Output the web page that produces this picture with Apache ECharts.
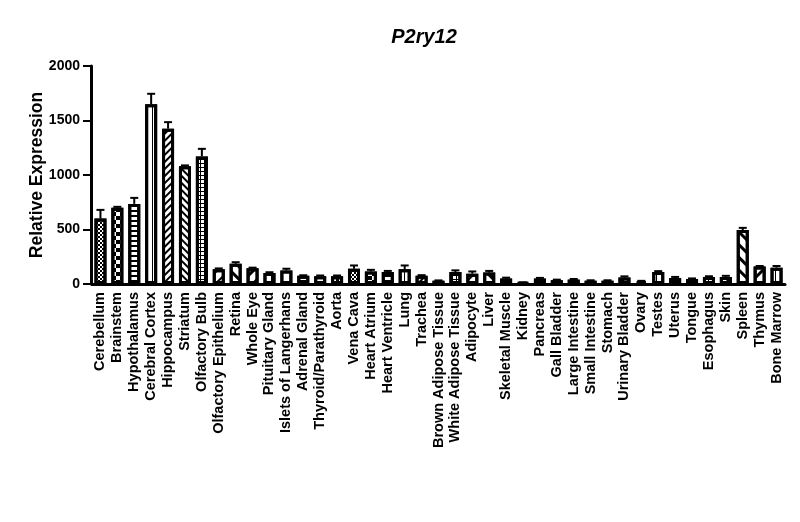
<!DOCTYPE html>
<html>
<head>
<meta charset="utf-8">
<script src="https://cdn.jsdelivr.net/npm/echarts@6/dist/echarts.min.js"></script>
<style>html,body{margin:0;padding:0;background:#fff;}#c{width:800px;height:522px;}</style>
</head>
<body>
<div id="c"></div>
<script>
const categories = ['Cerebellum','Brainstem','Hypothalamus','Cerebral Cortex','Hippocampus','Striatum','Olfactory Bulb','Olfactory Epithelium','Retina','Whole Eye','Pituitary Gland','Islets of Langerhans','Adrenal Gland','Thyroid/Parathyroid','Aorta','Vena Cava','Heart Atrium','Heart Ventricle','Lung','Trachea','Brown Adipose Tissue','White Adipose Tissue','Adipocyte','Liver','Skeletal Muscle','Kidney','Pancreas','Gall Bladder','Large Intestine','Small Intestine','Stomach','Urinary Bladder','Ovary','Testes','Uterus','Tongue','Esophagus','Skin','Spleen','Thymus','Bone Marrow'];
const values = [600,700,735,1650,1425,1080,1170,135,185,145,100,125,75,70,70,140,115,110,135,75,30,110,95,105,50,12,50,35,40,30,30,60,25,110,55,45,65,65,495,160,150];
const errors = [80,8,55,95,60,8,70,8,15,5,8,15,5,8,8,30,15,10,35,6,3,15,20,15,8,3,6,5,6,4,4,10,4,8,10,6,6,10,20,5,15];
const yTicks = [0,500,1000,1500,2000];

const patterns = [
  {symbol:'rect',symbolSize:1,dashArrayX:[[2,2],[0,2,2,0]],dashArrayY:[2,0],rotation:0},
  {symbol:'rect',symbolSize:1,dashArrayX:[[4,4],[0,4,4,0]],dashArrayY:[4,0],rotation:0},
  {symbol:'rect',symbolSize:1,dashArrayX:[1,0],dashArrayY:[2,3],rotation:0},
  {symbol:'rect',symbolSize:1,dashArrayX:[1,0],dashArrayY:[2,5],rotation:Math.PI/2},
  {symbol:'rect',symbolSize:1,dashArrayX:[1,0],dashArrayY:[1.2,2.8],rotation:-Math.PI/4},
  {symbol:'rect',symbolSize:1,dashArrayX:[1,0],dashArrayY:[1.2,2.8],rotation:Math.PI/4},
  {symbol:'rect',symbolSize:1,dashArrayX:[[4,0],[1,3],[1,3],[1,3]],dashArrayY:[1,0],rotation:0},
  {symbol:'rect',symbolSize:1,dashArrayX:[1,0],dashArrayY:[2,6],rotation:-Math.PI/4},
  {symbol:'rect',symbolSize:1,dashArrayX:[1,0],dashArrayY:[2.5,6],rotation:Math.PI/4},
  {symbol:'rect',symbolSize:1,dashArrayX:[1,0],dashArrayY:[2.5,6],rotation:-Math.PI/4},
  {symbol:'rect',symbolSize:1,dashArrayX:[1,0],dashArrayY:[2,5],rotation:Math.PI/2},
  {symbol:'none',symbolSize:0,dashArrayX:[1,0],dashArrayY:[1,0],rotation:0},
  {symbol:'rect',symbolSize:1,dashArrayX:[1,0],dashArrayY:[2,5],rotation:0},
  {symbol:'circle',symbolSize:0.8,dashArrayX:[3,3],dashArrayY:[3,3],rotation:0},
  {symbol:'rect',symbolSize:1,dashArrayX:[[3,3],[0,3,3,0]],dashArrayY:[3,0],rotation:0}
];

const barData = values.map((v,i)=>({
  value: v,
  itemStyle: {decal: Object.assign({color:'#000'}, patterns[i % patterns.length])}
}));
const errData = values.map((v,i)=>[i, v, errors[i]]);

const chart = echarts.init(document.getElementById('c'), null, {renderer:'canvas'});
chart.setOption({
  animation: false,
  backgroundColor: '#fff',
  title: {
    text: 'P2ry12', left: 419, top: 22, textAlign: 'center',
    textStyle: {fontFamily:'Liberation Sans', fontSize: 20, fontWeight:'bold', fontStyle:'italic', color:'#000'}
  },
  grid: {left: 92, right: 15, top: 66, bottom: 238, containLabel: false},
  xAxis: {
    type: 'category', data: categories, boundaryGap: true,
    axisLine: {lineStyle: {color:'#000', width: 3}},
    axisTick: {alignWithLabel: true, length: 6, lineStyle: {color:'#000', width: 2}},
    axisLabel: {rotate: 90, interval: 0, margin: 8, color:'#000', fontFamily:'Liberation Sans', fontSize: 14.5, fontWeight:'bold'}
  },
  yAxis: {
    type: 'value', min: 0, max: 2000, interval: 500, offset: 1,
    name: 'Relative Expression', nameLocation: 'middle', nameGap: 45, nameMoveOverlap: false,
    nameTextStyle: {fontFamily:'Liberation Sans', fontSize: 17.5, fontWeight:'bold', color:'#000'},
    axisLine: {show: true, lineStyle: {color:'#000', width: 3}},
    axisTick: {show: true, length: 8, lineStyle: {color:'#000', width: 2}},
    axisLabel: {margin: 11, color:'#000', fontFamily:'Liberation Sans', fontSize: 14, fontWeight:'bold',
      formatter: v => yTicks.indexOf(v) >= 0 ? String(v) : ''},
    splitLine: {show: false}
  },
  series: [
    {
      type: 'custom',
      z: 1,
      data: errData,
      renderItem: function(params, api){
        const i = api.value(0), v = api.value(1), e = api.value(2);
        const p0 = api.coord([i, v]);
        const p1 = api.coord([i, v + e]);
        const hw = 4;
        return {type:'group', children:[
          {type:'line', shape:{x1:p0[0], y1:p0[1], x2:p1[0], y2:p1[1]}, style:{stroke:'#000', lineWidth:2}},
          {type:'line', shape:{x1:p1[0]-hw, y1:p1[1], x2:p1[0]+hw, y2:p1[1]}, style:{stroke:'#000', lineWidth:2}}
        ]};
      }
    },
    {
      type: 'bar',
      z: 2,
      data: barData,
      barWidth: 12,
      itemStyle: {color:'#fff', borderColor:'#000', borderWidth: 3}
    }
  ]
});
</script>
</body>
</html>
